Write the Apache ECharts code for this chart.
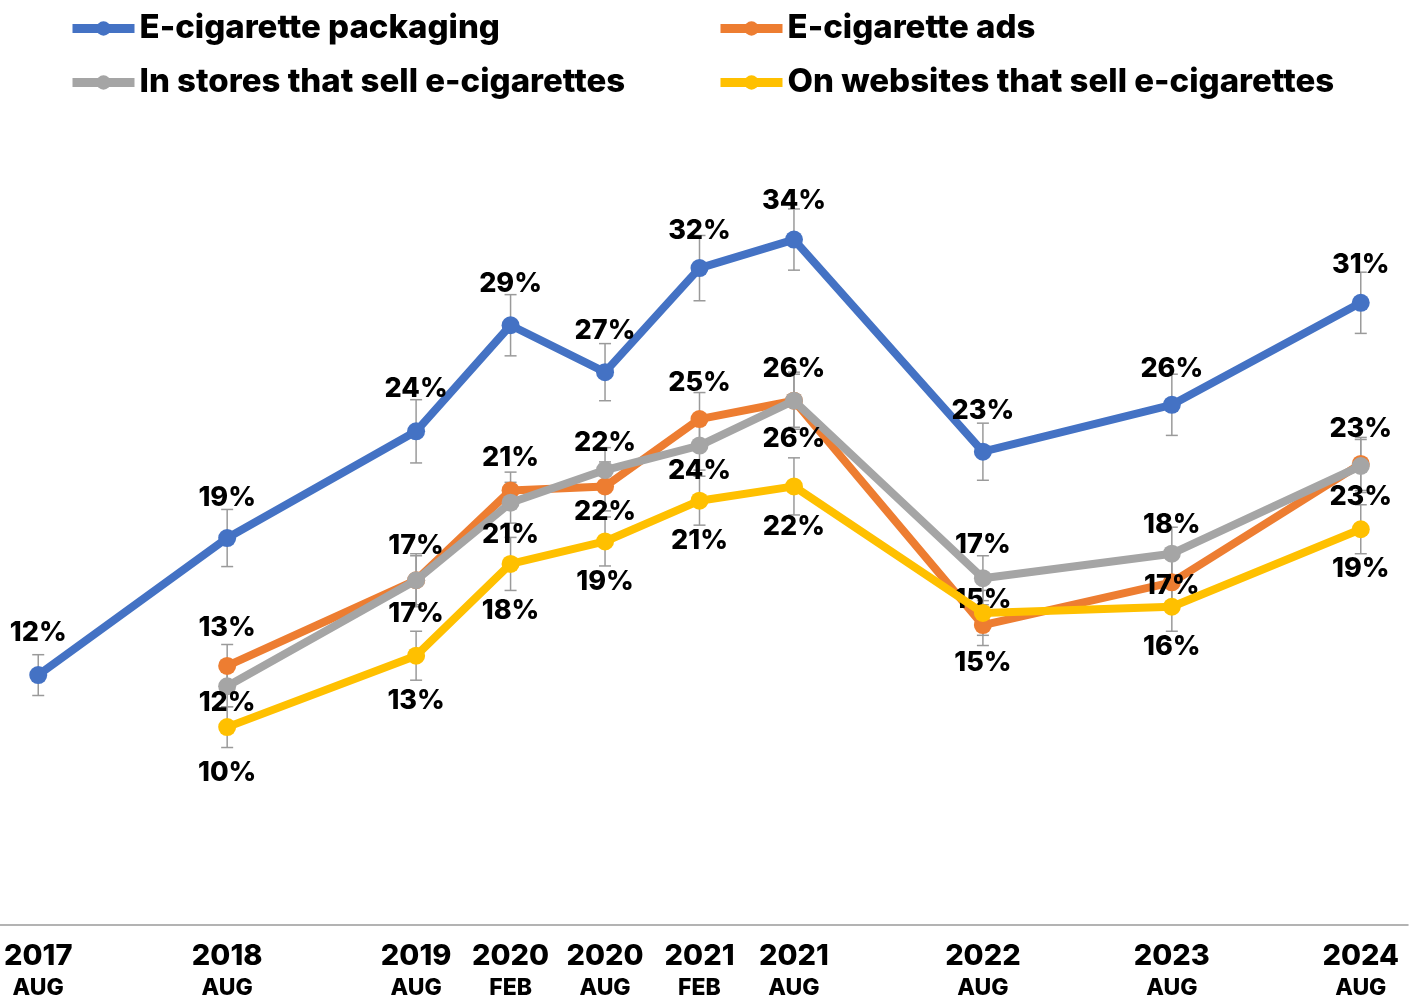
<!DOCTYPE html>
<html>
<head>
<meta charset="utf-8">
<script src="https://cdn.jsdelivr.net/npm/echarts@6/dist/echarts.min.js"></script>
<style>
html,body{margin:0;padding:0;background:#fff;}
#chart{width:1411px;height:1001px;}
</style>
</head>
<body>
<div id="chart"></div>
<script>
// ---- data ----
const categories = ['2017 AUG','2018 FEB','2018 AUG','2019 FEB','2019 AUG','2020 FEB','2020 AUG','2021 FEB','2021 AUG','2022 FEB','2022 AUG','2023 FEB','2023 AUG','2024 FEB','2024 AUG'];
const seriesNames = ['E-cigarette packaging','E-cigarette ads','In stores that sell e-cigarettes','On websites that sell e-cigarettes'];
const packaging = [12.25,null,18.97,null,24.2,29.4,27.1,32.2,33.6,null,23.2,null,25.5,null,30.5];
const ads       = [null,null,12.7,null,16.9,21.3,21.5,24.8,25.7,null,14.7,null,16.8,null,22.6];
const stores    = [null,null,11.7,null,16.9,20.7,22.3,23.5,25.7,null,17.0,null,18.2,null,22.5];
const websites  = [null,null,9.7,null,13.2,17.7,18.8,20.8,21.5,null,15.3,null,15.6,null,19.4];
// error bar half-widths (percentage points)
const packagingErr = [1.0,null,1.4,null,1.55,1.5,1.4,1.6,1.5,null,1.4,null,1.5,null,1.5];
const adsErr       = [null,null,1.05,null,1.3,0.9,1.2,1.3,1.3,null,1.0,null,1.2,null,1.3];
const storesErr    = [null,null,1.0,null,1.2,1.0,1.1,1.2,1.4,null,1.1,null,1.3,null,1.3];
const websitesErr  = [null,null,1.0,null,1.2,1.3,1.2,1.2,1.4,null,1.1,null,1.2,null,1.2];

// ---- layout: label vertical offsets (px) ----
const packagingDy = [-42,0,-40,0,-42,-41,-41,-37,-39,0,-41,0,-36,0,-38];
const adsDy       = [0,0,-38,0,-34,-33,-44,-36,-32,0,-25,0,4,0,-35];
const storesDy    = [0,0,17,0,34,32,42,25,38,0,-33,0,-29,0,31];
const websitesDy  = [0,0,46,0,45,47,40,40,40,0,50,0,40,0,40];

const colors = ['#4472C4','#ED7D31','#A5A5A5','#FFC000'];
const FONT = 'Inter, "Noto Sans", sans-serif';

const allVals = [packaging, ads, stores, websites];
const allErr = [packagingErr, adsErr, storesErr, websitesErr];
const allDy = [packagingDy, adsDy, storesDy, websitesDy];

function lineSeries(i){
  return {
    name: seriesNames[i],
    type: 'line',
    z: 3 + i,
    connectNulls: true,
    symbol: 'circle',
    symbolSize: 18,
    itemStyle: {color: colors[i]},
    lineStyle: {color: colors[i], width: 8},
    data: allVals[i].map((v, k) => v == null ? null : {
      value: v,
      label: {offset: [0, allDy[i][k]]}
    }),
    label: {
      show: true,
      position: 'inside',
      color: '#000',
      fontFamily: FONT,
      fontWeight: 800,
      fontSize: 27,
      formatter: p => Math.round(p.value) + '%'
    },
    emphasis: {disabled: true}
  };
}

function errSeries(i){
  const d = [];
  allVals[i].forEach((v, k) => { if (v != null) d.push([k, v, allErr[i][k]]); });
  return {
    type: 'custom',
    z: 1,
    silent: true,
    encode: {x: 0, y: 1},
    data: d,
    renderItem: function(params, api){
      const x = api.value(0), v = api.value(1), e = api.value(2);
      const top = api.coord([x, v + e]);
      const bot = api.coord([x, v - e]);
      const cw = 6;
      const st = {stroke: '#9a9a9a', lineWidth: 1.5};
      return {type: 'group', children: [
        {type: 'line', shape: {x1: top[0], y1: top[1], x2: bot[0], y2: bot[1]}, style: st},
        {type: 'line', shape: {x1: top[0]-cw, y1: top[1], x2: top[0]+cw, y2: top[1]}, style: st},
        {type: 'line', shape: {x1: bot[0]-cw, y1: bot[1], x2: bot[0]+cw, y2: bot[1]}, style: st}
      ]};
    }
  };
}

const hasData = categories.map((c, k) => allVals.some(a => a[k] != null));

const legendText = {fontFamily: FONT, fontWeight: 800, fontSize: 33, color: '#000'};
const legendCommon = {top: 10, orient: 'vertical', itemGap: 21, itemWidth: 62, itemHeight: 18,
  textStyle: legendText, selectedMode: false, padding: [2, 2, 2, 2],
  lineStyle: {width: 9}, itemStyle: {borderWidth: 0}};
const option = {
  animation: false,
  backgroundColor: '#fff',
  legend: [
    Object.assign({left: 66, data: [seriesNames[0], seriesNames[2]]}, legendCommon),
    Object.assign({left: 714, data: [seriesNames[1], seriesNames[3]]}, legendCommon)
  ],
  grid: {left: -9, right: 3, top: 109, bottom: 76, containLabel: false, outerBoundsMode: 'none'},
  xAxis: {
    type: 'category',
    data: categories,
    boundaryGap: true,
    axisLine: {show: true, lineStyle: {color: '#9a9a9a', width: 1.5}},
    axisTick: {show: false},
    axisLabel: {
      interval: 0,
      margin: 14,
      formatter: (val, idx) => {
        if (!hasData[idx]) return '';
        const parts = val.split(' ');
        return '{y|' + parts[0] + '}\n{m|' + parts[1] + '}';
      },
      rich: {
        y: {fontFamily: FONT, fontWeight: 800, fontSize: 29, color: '#000', lineHeight: 34},
        m: {fontFamily: FONT, fontWeight: 800, fontSize: 23, color: '#000', lineHeight: 30}
      }
    }
  },
  yAxis: {
    type: 'value', min: 0, max: 40, interval: 10,
    show: false, splitLine: {show: false}
  },
  series: [errSeries(0), errSeries(1), errSeries(2), errSeries(3),
           lineSeries(0), lineSeries(1), lineSeries(2), lineSeries(3)]
};

const chart = echarts.init(document.getElementById('chart'), null, {renderer: 'canvas'});
chart.setOption(option);
</script>
</body>
</html>
